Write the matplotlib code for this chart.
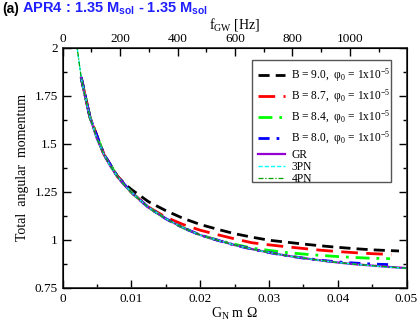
import numpy as np
import matplotlib
matplotlib.use("Agg")
import matplotlib.pyplot as plt
from matplotlib.ticker import MultipleLocator
from matplotlib.patches import Rectangle

plt.rcParams['font.family'] = ['Liberation Serif', 'DejaVu Serif']
plt.rcParams['mathtext.fontset'] = 'custom'
plt.rcParams['mathtext.rm'] = 'Liberation Serif'
plt.rcParams['mathtext.it'] = 'Liberation Serif:italic'
plt.rcParams['mathtext.bf'] = 'Liberation Sans:bold'

# G_N m Omega grid and total angular momentum
omega_gr = [0.0027, 0.003, 0.0035, 0.004, 0.005, 0.006, 0.007, 0.008, 0.009, 0.010,
            0.0125, 0.015, 0.0175, 0.020, 0.0225, 0.025, 0.0275, 0.030, 0.0325,
            0.035, 0.0375, 0.040, 0.0425, 0.045, 0.0475, 0.050]
j_gr = [1.845, 1.790, 1.710, 1.635, 1.525, 1.445, 1.380, 1.328, 1.284, 1.247,
        1.168, 1.110, 1.063, 1.025, 0.998, 0.973, 0.952, 0.934, 0.918,
        0.905, 0.893, 0.882, 0.873, 0.866, 0.859, 0.853]

omega_pn = [0.0020] + omega_gr
j_3pn = [2.03] + j_gr[:-3] + [0.865, 0.858, 0.851]
j_4pn = [2.03] + j_gr[:-3] + [0.866, 0.859, 0.852]

omega_b90 = [0.0027, 0.004, 0.006, 0.008, 0.009, 0.010, 0.0125, 0.015, 0.0175,
             0.020, 0.0225, 0.025, 0.0275, 0.030, 0.0325, 0.035, 0.0375, 0.040,
             0.0425, 0.045, 0.0475, 0.0489]
j_b90 = [1.845, 1.635, 1.445, 1.330, 1.292, 1.262, 1.198, 1.152, 1.112,
         1.080, 1.055, 1.032, 1.014, 0.998, 0.988, 0.978, 0.969, 0.961,
         0.954, 0.948, 0.944, 0.942]

omega_b87 = [0.0027, 0.004, 0.006, 0.008, 0.010, 0.0125, 0.015, 0.0175, 0.020,
             0.0225, 0.025, 0.0275, 0.030, 0.0325, 0.035, 0.0375, 0.040, 0.0425,
             0.045, 0.0478]
j_b87 = [1.845, 1.635, 1.445, 1.328, 1.247, 1.170, 1.118, 1.080, 1.050,
         1.027, 1.005, 0.985, 0.974, 0.964, 0.955, 0.946, 0.939, 0.933,
         0.928, 0.924]

omega_b84 = [0.0027, 0.004, 0.006, 0.008, 0.010, 0.0125, 0.015, 0.0175, 0.020,
             0.0225, 0.025, 0.0275, 0.030, 0.0325, 0.035, 0.0375, 0.040, 0.0425,
             0.045, 0.0476]
j_b84 = [1.845, 1.635, 1.445, 1.328, 1.247, 1.168, 1.110, 1.063, 1.025,
         0.999, 0.977, 0.957, 0.945, 0.934, 0.926, 0.919, 0.913, 0.908,
         0.904, 0.902]

omega_b80 = [0.0027, 0.004, 0.006, 0.008, 0.010, 0.0125, 0.015, 0.0175, 0.020,
             0.0225, 0.025, 0.0275, 0.030, 0.0325, 0.035, 0.0375, 0.040, 0.0425,
             0.045, 0.0476]
j_b80 = [1.845, 1.635, 1.445, 1.328, 1.247, 1.168, 1.110, 1.063, 1.025,
         0.998, 0.973, 0.952, 0.934, 0.918, 0.905, 0.894, 0.885, 0.879,
         0.874, 0.871]

b_labels = [r'B = 9.0,  $\mathrm{\varphi}_0$ = 1x10$^{-5}$',
            r'B = 8.7,  $\mathrm{\varphi}_0$ = 1x10$^{-5}$',
            r'B = 8.4,  $\mathrm{\varphi}_0$ = 1x10$^{-5}$',
            r'B = 8.0,  $\mathrm{\varphi}_0$ = 1x10$^{-5}$']

f_gw_max = 1197  # top axis range in Hz

fig = plt.figure(figsize=(4.2, 3.23), dpi=100)
ax = fig.add_axes([0.149, 0.1087, 0.819, 0.744])

b_lines = []
b_lines += ax.plot(omega_b90, j_b90, color='black', lw=2, dashes=(4, 2.2))
b_lines += ax.plot(omega_b87, j_b87, color='red', lw=2, dashes=(6, 3))
b_lines += ax.plot(omega_b84, j_b84, color='#00ff00', lw=2, dashes=(5, 2.5, 1, 2.5))
b_lines += ax.plot(omega_b80, j_b80, color='blue', lw=2, dashes=(4, 2.5, 1, 2.5))
pn_lines = []
pn_lines += ax.plot(omega_gr, j_gr, color='#9400d3', lw=1.6)
pn_lines += ax.plot(omega_pn, j_3pn, color='#00ffff', lw=1.0, dashes=(3, 1.5))
pn_lines += ax.plot(omega_pn, j_4pn, color='#00a000', lw=0.9, dashes=(4, 1.5, 1, 1.5))

ax.set_xlim(0, 0.05)
ax.set_ylim(0.75, 2)
ax.set_xticks([0, 0.01, 0.02, 0.03, 0.04, 0.05])
ax.set_xticklabels(['0', '0.01', '0.02', '0.03', '0.04', '0.05'])
ax.set_yticks([0.75, 1, 1.25, 1.5, 1.75, 2])
ax.set_yticklabels(['0.75', '1', '1.25', '1.5', '1.75', '2'])
ax.xaxis.set_minor_locator(MultipleLocator(0.005))
ax.yaxis.set_minor_locator(MultipleLocator(0.125))
ax.tick_params(which='both', direction='in', labelsize=9.5, right=True, top=False)
ax.tick_params(which='major', length=6, width=1)
ax.tick_params(which='minor', length=3, width=1)
ax.tick_params(axis='x', pad=4)
for sp in ax.spines.values():
    sp.set_linewidth(1.3)
    sp.set_color('#333333')

ax.set_xlabel(r'G$_\mathrm{N}$ m $\mathrm{\Omega}$', fontsize=10, labelpad=0)
ax.set_ylabel('Total  angular  momentum', fontsize=10, labelpad=4)

top = ax.twiny()
top.set_xlim(0, f_gw_max)
top.set_xticks([0, 200, 400, 600, 800, 1000])
top.xaxis.set_minor_locator(MultipleLocator(100))
top.tick_params(which='both', direction='in', labelsize=9.5, pad=2)
top.tick_params(which='major', length=6, width=1)
top.tick_params(which='minor', length=3, width=1)
top.set_xlabel(r'f$_\mathrm{GW}$ [Hz]', fontsize=10, labelpad=3)

# legend: frame drawn by hand, B entries spaced wider than GR / PN entries
ax.add_patch(Rectangle((0.551, 0.4405), 0.403, 0.5075, transform=ax.transAxes,
                       facecolor='white', edgecolor='#555555', lw=1.0, zorder=4))
leg_opts = dict(loc='upper left', fontsize=8.3, handlelength=2.3, handletextpad=0.55,
                borderpad=0.55, borderaxespad=0, frameon=False)
leg1 = ax.legend(b_lines, b_labels, bbox_to_anchor=(0.551, 0.948), labelspacing=0.3,
                 **leg_opts)
leg1.set_zorder(5)
ax.add_artist(leg1)
leg2 = ax.legend(pn_lines, ['GR', '3PN', '4PN'], bbox_to_anchor=(0.551, 0.606),
                 labelspacing=0.0, **leg_opts)
leg2.set_zorder(5)

fig.text(0.005, 0.972, '(a)', fontsize=10, fontweight='bold', family='Liberation Sans',
         va='center', ha='left')
fig.text(0.053, 0.972, r'APR4 : 1.35 M$_\mathbf{sol}$ - 1.35 M$_\mathbf{sol}$', fontsize=10.5,
         fontweight='bold', family='Liberation Sans', color='#1f1fff', va='center', ha='left')

fig.savefig('out.png', dpi=100)
